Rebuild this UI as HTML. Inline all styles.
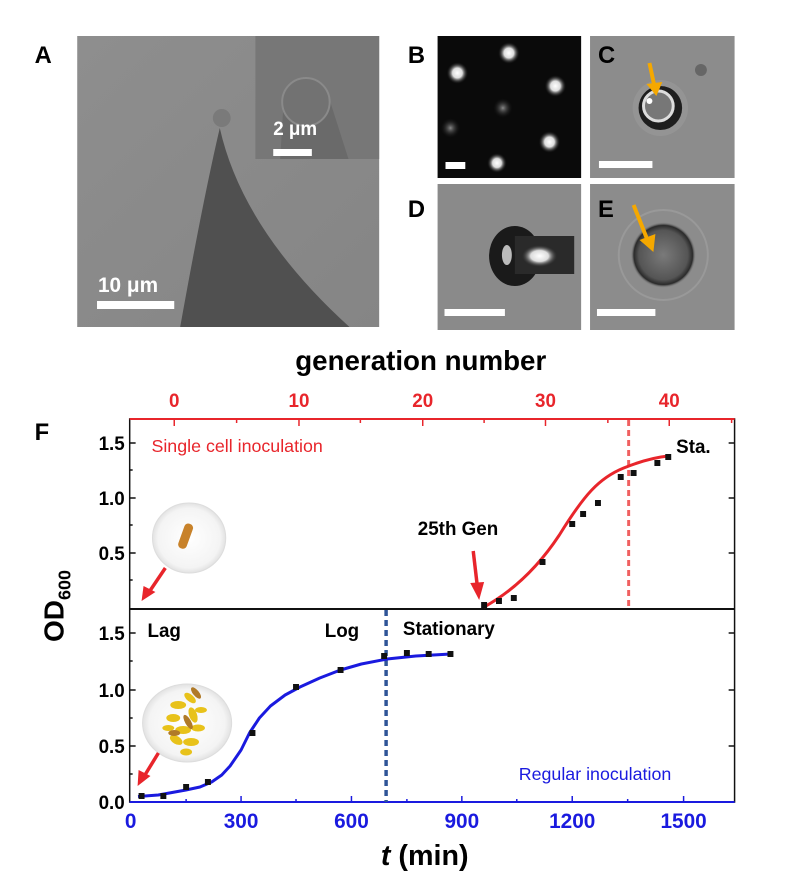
<!DOCTYPE html>
<html><head><meta charset="utf-8"><style>
html,body{margin:0;padding:0;background:#fff;}
svg{display:block;font-family:"Liberation Sans",Arial,sans-serif;}
</style></head><body>
<svg width="792" height="889" viewBox="0 0 792 889" xmlns="http://www.w3.org/2000/svg">
<defs>
<radialGradient id="dot"><stop offset="0" stop-color="#fff"/><stop offset="0.45" stop-color="#ddd"/><stop offset="1" stop-color="#111" stop-opacity="0"/></radialGradient>
<radialGradient id="dotd"><stop offset="0" stop-color="#888"/><stop offset="1" stop-color="#111" stop-opacity="0"/></radialGradient>
<radialGradient id="cellE"><stop offset="0" stop-color="#7a7a7a"/><stop offset="0.75" stop-color="#555"/><stop offset="0.9" stop-color="#2a2a2a"/><stop offset="1" stop-color="#8c8c8c" stop-opacity="0"/></radialGradient>
<radialGradient id="circ"><stop offset="0" stop-color="#fff"/><stop offset="0.85" stop-color="#f4f4f4"/><stop offset="1" stop-color="#e2e2e2"/></radialGradient>
<radialGradient id="bright"><stop offset="0" stop-color="#fff"/><stop offset="0.5" stop-color="#ddd"/><stop offset="1" stop-color="#333" stop-opacity="0"/></radialGradient>
<linearGradient id="bgA" x1="0" y1="0" x2="1" y2="1"><stop offset="0" stop-color="#8e8e8e"/><stop offset="1" stop-color="#858585"/></linearGradient>
</defs>
<g transform="scale(0.99,1)">
<!-- Panel A -->
<rect x="78" y="36" width="305" height="291" fill="url(#bgA)"/>
<path d="M182,327 Q205,200 222,128 Q245,230 353,327 Z" fill="#505050"/>
<circle cx="224" cy="118" r="9" fill="#7a7a7a"/>
<rect x="258" y="36" width="125" height="123" fill="#777"/>
<path d="M283,159 L286,110 Q290,78 309,78 Q330,78 333,100 L352,159 Z" fill="#6a6a6a"/>
<circle cx="309" cy="102" r="24" fill="#727272" stroke="#8a8a8a" stroke-width="2"/>
<text x="276" y="135" font-size="19" font-weight="bold" fill="#fff">2 μm</text>
<rect x="276" y="149" width="39" height="7" fill="#fff"/>
<text x="99" y="292" font-size="21" font-weight="bold" fill="#fff">10 μm</text>
<rect x="98" y="301" width="78" height="8" fill="#fff"/>
<text x="35" y="63" font-size="24" font-weight="bold">A</text>

<!-- B -->
<rect x="442" y="36" width="145" height="142" fill="#0a0a0a"/>
<circle cx="514" cy="53" r="11" fill="url(#dot)"/>
<circle cx="462" cy="73" r="11" fill="url(#dot)"/>
<circle cx="561" cy="86" r="11" fill="url(#dot)"/>
<circle cx="508" cy="108" r="10" fill="url(#dotd)"/>
<circle cx="455" cy="128" r="10" fill="url(#dotd)"/>
<circle cx="555" cy="142" r="11" fill="url(#dot)"/>
<circle cx="502" cy="163" r="10" fill="url(#dot)"/>
<rect x="450" y="162" width="20" height="7" fill="#fff"/>
<text x="412" y="63" font-size="24" font-weight="bold">B</text>

<!-- C -->
<rect x="596" y="36" width="146" height="142" fill="#8c8c8c"/>
<circle cx="667" cy="108" r="28" fill="#999" opacity="0.6"/>
<circle cx="667" cy="108" r="22" fill="#1e1e1e"/>
<circle cx="665" cy="106" r="15" fill="#777" stroke="#ddd" stroke-width="3"/>
<circle cx="656" cy="101" r="3" fill="#fff"/>
<circle cx="708" cy="70" r="6" fill="#666"/>
<line x1="656" y1="63" x2="661" y2="86" stroke="#f5a800" stroke-width="4"/>
<polygon points="653,84 669,82 663,96" fill="#f5a800"/>
<rect x="605" y="161" width="54" height="7" fill="#fff"/>
<text x="604" y="63" font-size="24" font-weight="bold">C</text>

<!-- D -->
<rect x="442" y="184" width="145" height="146" fill="#8a8a8a"/>
<ellipse cx="520" cy="256" rx="26" ry="30" fill="#1a1a1a"/>
<rect x="520" y="236" width="60" height="38" fill="#2a2a2a"/>
<ellipse cx="545" cy="256" rx="18" ry="11" fill="url(#bright)"/>
<ellipse cx="512" cy="255" rx="5" ry="10" fill="#bbb"/>
<rect x="449" y="309" width="61" height="7" fill="#fff"/>
<text x="412" y="217" font-size="24" font-weight="bold">D</text>

<!-- E -->
<rect x="596" y="184" width="146" height="146" fill="#8c8c8c"/>
<circle cx="670" cy="255" r="45" fill="none" stroke="#999" stroke-width="2"/>
<circle cx="670" cy="255" r="33" fill="url(#cellE)"/>
<line x1="640" y1="205" x2="654" y2="240" stroke="#f5a800" stroke-width="4"/>
<polygon points="646,240 662,234 660,252" fill="#f5a800"/>
<rect x="603" y="309" width="59" height="7" fill="#fff"/>
<text x="604" y="217" font-size="24" font-weight="bold">E</text>

<!-- Chart -->
<text x="425" y="370" font-size="28" font-weight="bold" text-anchor="middle">generation number</text>
<text x="35" y="440" font-size="24" font-weight="bold">F</text>
<g font-size="19" font-weight="bold" fill="#e8252b" text-anchor="middle">
<text x="176" y="407">0</text><text x="302" y="407">10</text><text x="427" y="407">20</text><text x="551" y="407">30</text><text x="676" y="407">40</text>
</g>
<g stroke="#e8252b" stroke-width="1.5">
<line x1="176" y1="419" x2="176" y2="426"/><line x1="302" y1="419" x2="302" y2="426"/><line x1="427" y1="419" x2="427" y2="426"/><line x1="551" y1="419" x2="551" y2="426"/><line x1="676" y1="419" x2="676" y2="426"/>
<line x1="239" y1="419" x2="239" y2="423"/><line x1="364" y1="419" x2="364" y2="423"/><line x1="489" y1="419" x2="489" y2="423"/><line x1="614" y1="419" x2="614" y2="423"/><line x1="739" y1="419" x2="739" y2="423"/>
</g>
<rect x="131" y="419" width="611" height="383" fill="none" stroke="#111" stroke-width="1.5"/>
<line x1="131" y1="419" x2="742" y2="419" stroke="#e8252b" stroke-width="2"/>
<line x1="131" y1="609" x2="742" y2="609" stroke="#111" stroke-width="2"/>
<line x1="131" y1="802" x2="742" y2="802" stroke="#1a1adf" stroke-width="2"/>
<g stroke="#111" stroke-width="1.5">
<line x1="131" y1="443" x2="137" y2="443"/><line x1="131" y1="498" x2="137" y2="498"/><line x1="131" y1="553" x2="137" y2="553"/>
<line x1="131" y1="470" x2="134" y2="470"/><line x1="131" y1="525" x2="134" y2="525"/><line x1="131" y1="580" x2="134" y2="580"/>
<line x1="742" y1="443" x2="736" y2="443"/><line x1="742" y1="498" x2="736" y2="498"/><line x1="742" y1="553" x2="736" y2="553"/>
<line x1="131" y1="633" x2="137" y2="633"/><line x1="131" y1="690" x2="137" y2="690"/><line x1="131" y1="746" x2="137" y2="746"/>
<line x1="131" y1="661" x2="134" y2="661"/><line x1="131" y1="718" x2="134" y2="718"/><line x1="131" y1="774" x2="134" y2="774"/>
<line x1="742" y1="633" x2="736" y2="633"/><line x1="742" y1="690" x2="736" y2="690"/><line x1="742" y1="746" x2="736" y2="746"/>
</g>
<g font-size="19" font-weight="bold" text-anchor="end">
<text x="126" y="450">1.5</text><text x="126" y="505">1.0</text><text x="126" y="560">0.5</text>
<text x="126" y="640">1.5</text><text x="126" y="697">1.0</text><text x="126" y="753">0.5</text><text x="126" y="809">0.0</text>
</g>
<text transform="translate(64,606) rotate(-90)" font-size="28" font-weight="bold" text-anchor="middle">OD<tspan font-size="18" dy="7">600</tspan></text>
<g stroke="#1a1adf" stroke-width="1.5">
<line x1="243.5" y1="802" x2="243.5" y2="796"/><line x1="355" y1="802" x2="355" y2="796"/><line x1="466.5" y1="802" x2="466.5" y2="796"/><line x1="578" y1="802" x2="578" y2="796"/><line x1="690.5" y1="802" x2="690.5" y2="796"/>
<line x1="188" y1="802" x2="188" y2="799"/><line x1="299" y1="802" x2="299" y2="799"/><line x1="411" y1="802" x2="411" y2="799"/><line x1="522" y1="802" x2="522" y2="799"/><line x1="634" y1="802" x2="634" y2="799"/>
</g>
<g font-size="21" font-weight="bold" fill="#1a1adf" text-anchor="middle">
<text x="132" y="828">0</text><text x="243.5" y="828">300</text><text x="355" y="828">600</text><text x="466.5" y="828">900</text><text x="578" y="828">1200</text><text x="690.5" y="828">1500</text>
</g>
<text x="429" y="865" font-size="29" font-weight="bold" text-anchor="middle"><tspan font-style="italic">t</tspan> (min)</text>

<!-- top panel content -->
<text x="153" y="452" font-size="18" fill="#e8252b">Single cell inoculation</text>
<text x="683" y="453" font-size="19" font-weight="bold">Sta.</text>
<text x="422" y="535" font-size="19" font-weight="bold">25th Gen</text>
<line x1="478" y1="551" x2="482" y2="585" stroke="#e8252b" stroke-width="3.5"/>
<polygon points="475,583 489,582 484,600" fill="#e8252b"/>
<line x1="635" y1="420" x2="635" y2="608" stroke="#f06060" stroke-width="3" stroke-dasharray="6,4"/>
<path d="M489,607 C520,590 545,565 565,535 C590,495 605,478 630,468 C650,460 665,457 675,456" fill="none" stroke="#e8252b" stroke-width="3"/>
<g fill="#111">
<rect x="486" y="602" width="6" height="6"/><rect x="501" y="598" width="6" height="6"/><rect x="516" y="595" width="6" height="6"/><rect x="545" y="559" width="6" height="6"/><rect x="575" y="521" width="6" height="6"/><rect x="586" y="511" width="6" height="6"/><rect x="601" y="500" width="6" height="6"/><rect x="624" y="474" width="6" height="6"/><rect x="637" y="470" width="6" height="6"/><rect x="661" y="460" width="6" height="6"/><rect x="672" y="454" width="6" height="6"/>
</g>
<ellipse cx="191" cy="538" rx="37" ry="35" fill="url(#circ)" stroke="#ddd" stroke-width="1"/>
<rect x="183" y="523" width="9" height="26" rx="4" fill="#c8822a" transform="rotate(20 187 536)"/>
<line x1="167" y1="568" x2="152" y2="590" stroke="#e8252b" stroke-width="3.5"/>
<polygon points="145,586 157,592 143,601" fill="#e8252b"/>

<!-- bottom panel content -->
<text x="149" y="637" font-size="19" font-weight="bold">Lag</text>
<text x="328" y="637" font-size="19" font-weight="bold">Log</text>
<text x="407" y="635" font-size="19" font-weight="bold">Stationary</text>
<text x="524" y="780" font-size="18" fill="#1a1adf">Regular inoculation</text>
<line x1="390" y1="610" x2="390" y2="802" stroke="#2f5597" stroke-width="3.5" stroke-dasharray="6,4"/>
<polyline points="139.4,796.5 159.9,795 187.8,790 202,787 213.8,782 224,775 232.4,766 243.5,750 252,733 262,718 273.2,706 288,695 303,687 323,678 343.9,670 365,664 391,659 420,656 455.4,654" fill="none" stroke="#1a1adf" stroke-width="3" stroke-linejoin="round"/>
<g fill="#111">
<rect x="140" y="793" width="6" height="6"/><rect x="162" y="793" width="6" height="6"/><rect x="185" y="784" width="6" height="6"/><rect x="207" y="779" width="6" height="6"/><rect x="252" y="730" width="6" height="6"/><rect x="296" y="684" width="6" height="6"/><rect x="341" y="667" width="6" height="6"/><rect x="385" y="653" width="6" height="6"/><rect x="408" y="650" width="6" height="6"/><rect x="430" y="651" width="6" height="6"/><rect x="452" y="651" width="6" height="6"/>
</g>
<ellipse cx="189" cy="723" rx="45" ry="39" fill="url(#circ)" stroke="#ddd" stroke-width="1"/>
<g fill="#e8c21a">
<ellipse cx="180" cy="705" rx="8" ry="4"/><ellipse cx="192" cy="698" rx="7" ry="3.5" transform="rotate(40 192 698)"/><ellipse cx="175" cy="718" rx="7" ry="4"/><ellipse cx="195" cy="715" rx="8" ry="4" transform="rotate(70 195 715)"/><ellipse cx="185" cy="730" rx="8" ry="4"/><ellipse cx="200" cy="728" rx="7" ry="3.5"/><ellipse cx="178" cy="740" rx="7" ry="4" transform="rotate(30 178 740)"/><ellipse cx="193" cy="742" rx="8" ry="4"/><ellipse cx="188" cy="752" rx="6" ry="3.5"/><ellipse cx="203" cy="710" rx="6" ry="3"/><ellipse cx="170" cy="728" rx="6" ry="3"/>
</g>
<g fill="#b07a28"><ellipse cx="198" cy="693" rx="7" ry="3" transform="rotate(50 198 693)"/><ellipse cx="190" cy="722" rx="8" ry="3" transform="rotate(60 190 722)"/><ellipse cx="176" cy="733" rx="6" ry="3"/></g>
<line x1="160" y1="753" x2="147" y2="774" stroke="#e8252b" stroke-width="3.5"/>
<polygon points="140,770 152,776 139,786" fill="#e8252b"/>
</g>
</svg>
</body></html>
